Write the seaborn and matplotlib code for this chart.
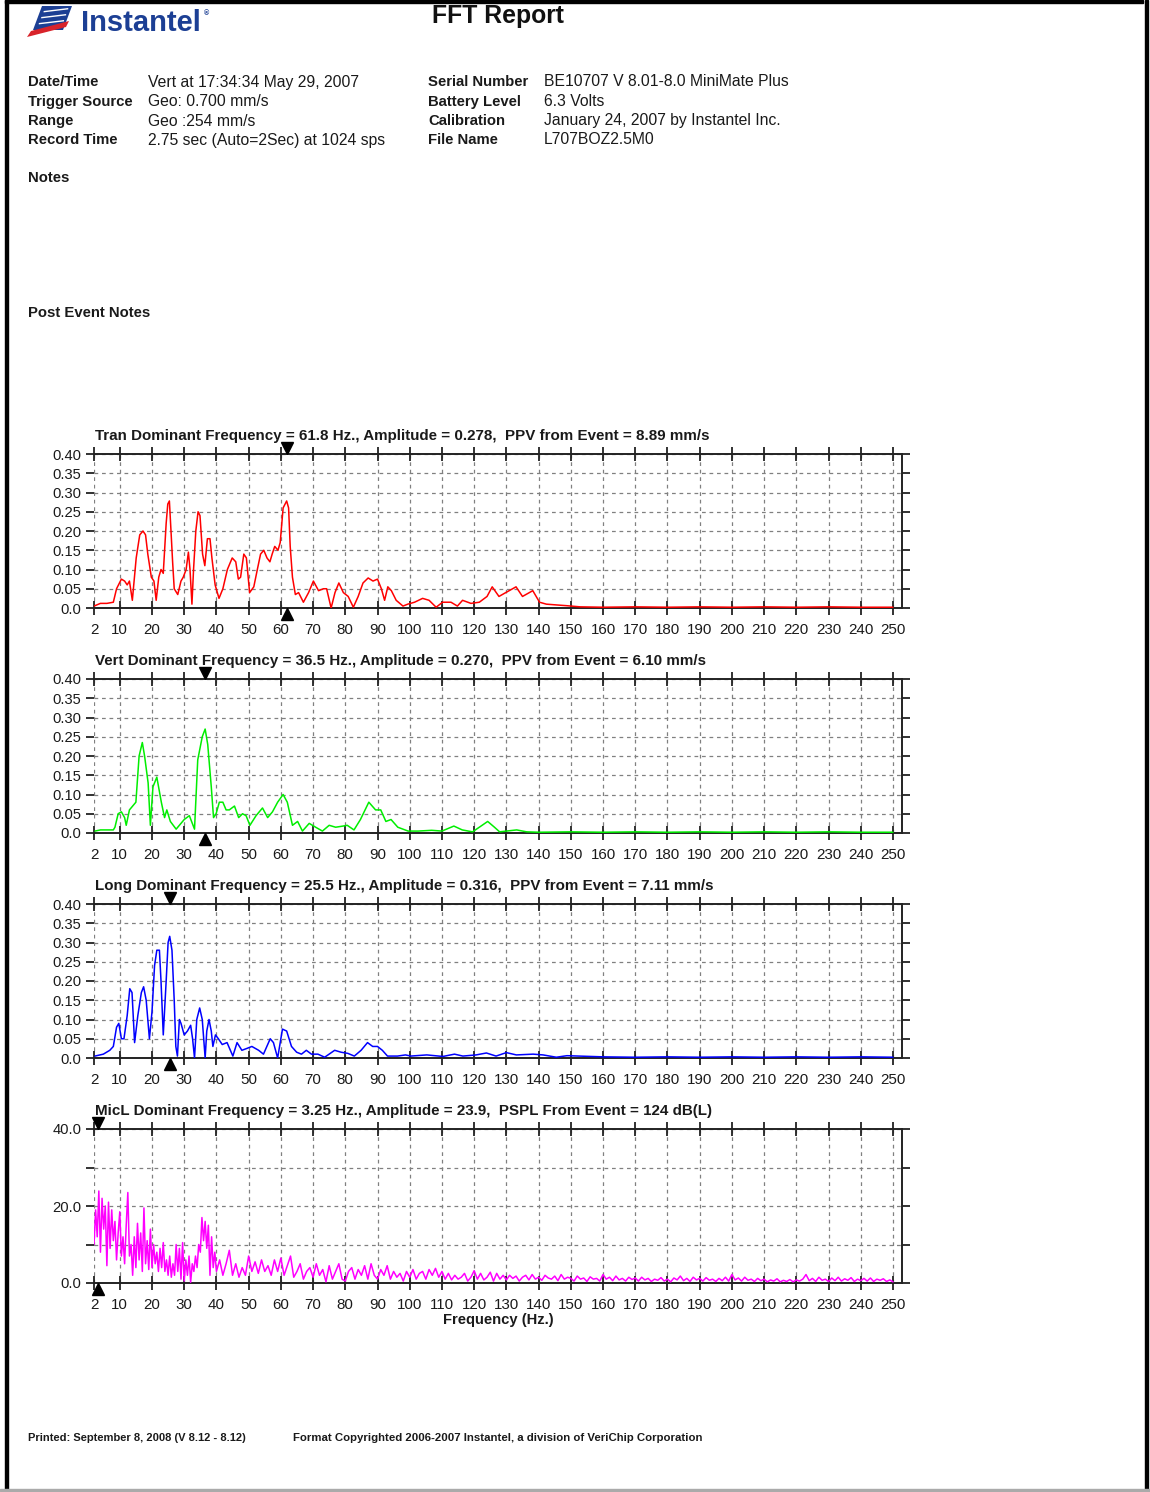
import numpy as np
import matplotlib
matplotlib.use("Agg")
import matplotlib.pyplot as plt
import matplotlib.transforms as mtransforms
from matplotlib.patches import Polygon, Rectangle
import seaborn as sns

# ------------------------------------------------------------------
# Spectrum values (frequency in Hz, amplitude)
# ------------------------------------------------------------------
tran_freq = [2, 4, 6, 8, 9, 10.5, 11.5, 12.3, 13, 13.9, 15.1, 16.2, 17.2, 18, 18.7, 19.8, 20.6, 21.3,
             22.1, 22.8, 23.5, 24.4, 24.9, 25.4, 25.9, 26.4, 26.9, 28, 29, 29.7, 30.6, 31.3, 31.8, 32.4,
             32.9, 33.6, 34.3, 34.9, 35.7, 36.4, 37.2, 38, 38.6, 39.6, 40.8, 42, 43.4, 44.9, 46, 46.8,
             47.5, 48.5, 49.3, 50.3, 51.6, 52.7, 53.7, 54.7, 55.7, 56.6, 57.3, 58.1, 59.1, 59.8, 60.7,
             61.8, 62.4, 62.9, 63.6, 64.5, 65.5, 67, 68.6, 70.1, 71.7, 73.2, 74.2, 75.6, 76.8, 78, 79.4,
             80.9, 82.5, 84, 85.5, 87.1, 88.6, 90, 91.2, 92.2, 93.2, 94.3, 95.8, 97.9, 99.4, 101.5, 104,
             106, 108.2, 110.2, 112.8, 114.8, 116.4, 119, 121.6, 124, 125.6, 127.7, 129.8, 133, 135,
             138.2, 140.3, 142.4, 145.5, 148.7, 152.9, 160, 170, 180, 190, 200, 210, 220, 230, 240, 250]
tran_amp = [0.005, 0.012, 0.012, 0.015, 0.05, 0.075, 0.07, 0.06, 0.07, 0.02, 0.13, 0.19, 0.2, 0.19,
            0.14, 0.08, 0.07, 0.02, 0.08, 0.1, 0.09, 0.22, 0.27, 0.278, 0.2, 0.12, 0.05, 0.035, 0.07,
            0.08, 0.1, 0.145, 0.1, 0.01, 0.1, 0.2, 0.25, 0.24, 0.14, 0.11, 0.18, 0.18, 0.13, 0.06,
            0.025, 0.05, 0.1, 0.13, 0.12, 0.075, 0.08, 0.14, 0.13, 0.04, 0.055, 0.1, 0.14, 0.15, 0.13,
            0.12, 0.14, 0.16, 0.15, 0.17, 0.26, 0.278, 0.26, 0.16, 0.08, 0.035, 0.04, 0.015, 0.04,
            0.07, 0.045, 0.05, 0.05, 0.0, 0.04, 0.065, 0.04, 0.03, 0.002, 0.03, 0.065, 0.078, 0.07,
            0.075, 0.05, 0.02, 0.055, 0.045, 0.02, 0.005, 0.01, 0.015, 0.025, 0.02, 0.002, 0.015,
            0.015, 0.005, 0.02, 0.012, 0.015, 0.03, 0.055, 0.03, 0.04, 0.055, 0.03, 0.045, 0.015,
            0.01, 0.008, 0.006, 0.003, 0.002, 0.003, 0.002, 0.003, 0.002, 0.003, 0.002, 0.003, 0.002,
            0.002]

vert_freq = [2.3, 4, 6, 8, 8.5, 9.5, 10.5, 11.5, 12, 13, 14, 15, 16, 17, 17.7, 18.8, 19.5, 20.3, 21.5,
             22.9, 23.9, 24.6, 25.7, 27.5, 29, 30, 31.6, 33.2, 34.2, 35.6, 36.5, 37.3, 38.4, 39.1, 39.9,
             40.9, 42, 43, 44, 45.6, 46.9, 48.1, 49.2, 50.4, 52.3, 54.3, 55.9, 57.4, 59, 60.7, 62, 63.6,
             65.2, 66.7, 68.8, 70.8, 72.9, 75, 77, 79.3, 80.6, 82.7, 84.7, 87.3, 89.4, 91, 92.6, 94.2,
             96.3, 99.5, 102.6, 106.8, 110, 113.7, 116.3, 119.5, 121.6, 124.2, 126.3, 127.9, 133.2,
             136.3, 140, 150, 160, 170, 180, 190, 200, 210, 220, 230, 240, 250]
vert_amp = [0.005, 0.008, 0.008, 0.008, 0.015, 0.05, 0.055, 0.04, 0.02, 0.06, 0.07, 0.08, 0.2, 0.235,
            0.2, 0.13, 0.02, 0.12, 0.145, 0.08, 0.04, 0.06, 0.03, 0.01, 0.025, 0.035, 0.045, 0.01, 0.19,
            0.25, 0.27, 0.23, 0.12, 0.04, 0.05, 0.08, 0.08, 0.06, 0.06, 0.07, 0.04, 0.05, 0.045, 0.02,
            0.045, 0.065, 0.04, 0.055, 0.08, 0.1, 0.08, 0.02, 0.03, 0.005, 0.025, 0.015, 0.005, 0.02,
            0.015, 0.018, 0.02, 0.008, 0.035, 0.08, 0.06, 0.06, 0.03, 0.035, 0.015, 0.005, 0.005,
            0.007, 0.005, 0.018, 0.008, 0.003, 0.015, 0.03, 0.015, 0.003, 0.008, 0.003, 0.002, 0.003,
            0.002, 0.003, 0.002, 0.003, 0.002, 0.003, 0.002, 0.003, 0.002, 0.002]

long_freq = [2.3, 4.9, 6.9, 8, 9, 9.7, 10.5, 11.3, 12.3, 13.1, 13.8, 14.6, 15.6, 16.7, 17.4, 18.2, 19.2,
             20, 20.8, 21.5, 22.3, 22.8, 23.5, 24.4, 25, 25.5, 26.2, 26.9, 27.4, 27.9, 28.5, 29, 30, 31,
             32, 32.6, 33.2, 33.9, 34.8, 35.6, 36.5, 37, 37.7, 38.4, 38.9, 39.7, 40.6, 41.8, 43.3, 45.1,
             46.4, 47.9, 49.5, 51, 53.1, 54.6, 56.7, 57.7, 59, 60.5, 61.8, 63.3, 64.9, 66.4, 67.9, 69.5,
             71.5, 73.6, 76.7, 78.7, 80.8, 82.8, 84.9, 86.9, 88.5, 90, 91.5, 93.1, 96.2, 98.7, 100.3,
             105.3, 110.3, 113.9, 116.5, 120.6, 123.8, 126.8, 130, 133.1, 138.3, 141.4, 145.5, 148.8,
             160, 170, 180, 190, 200, 210, 220, 230, 240, 250]
long_amp = [0.005, 0.01, 0.02, 0.03, 0.08, 0.09, 0.05, 0.05, 0.11, 0.18, 0.17, 0.04, 0.11, 0.17, 0.185,
            0.15, 0.05, 0.12, 0.24, 0.28, 0.28, 0.2, 0.06, 0.2, 0.3, 0.316, 0.28, 0.15, 0.03, 0.005,
            0.1, 0.09, 0.06, 0.07, 0.085, 0.05, 0.0, 0.1, 0.13, 0.1, 0.0, 0.07, 0.1, 0.07, 0.03, 0.06,
            0.05, 0.035, 0.04, 0.005, 0.04, 0.02, 0.025, 0.03, 0.02, 0.01, 0.05, 0.04, 0.0, 0.075,
            0.07, 0.03, 0.015, 0.01, 0.02, 0.01, 0.01, 0.002, 0.02, 0.015, 0.012, 0.005, 0.02, 0.04,
            0.03, 0.03, 0.02, 0.005, 0.005, 0.008, 0.005, 0.008, 0.004, 0.01, 0.005, 0.008, 0.013,
            0.005, 0.014, 0.008, 0.01, 0.008, 0.002, 0.006, 0.003, 0.002, 0.003, 0.002, 0.003, 0.002,
            0.003, 0.002, 0.003, 0.002]

# microphone: 0.5 Hz bins up to 40 Hz, then 1 Hz bins
mic_freq = np.r_[np.arange(2, 40, 0.5), np.arange(40, 251, 1)]
mic_amp = [10, 19, 12, 23.9, 8, 22, 14, 20, 4.5, 21, 9, 19, 11, 16, 6, 13, 18.5, 7, 12, 5,
           15, 23.5, 7, 10, 2, 12, 4, 15.5, 6, 13, 3, 19.5, 5, 11, 3.5, 14, 4, 10, 5, 8,
           3, 9, 4, 10.5, 3, 6, 2, 7, 1.5, 5, 2, 10, 3, 9, 1, 10.5, 0.5, 6, 2, 7,
           0.2, 5, 3, 7, 4, 10, 8, 17, 11, 16, 9, 15, 2, 12, 4, 8,
           # 40 Hz onward
           3, 6, 2, 5, 8.5, 2, 5, 1.5, 4, 2,
           7, 3, 5.5, 2.5, 6, 3, 4.5, 2, 6, 3,
           6.5, 2, 4.5, 7, 1.5, 3, 5, 1, 3, 4,
           1.5, 5, 2, 3.5, 0.3, 4.5, 1, 3, 5, 1,
           0.5, 3, 4, 1, 3.5, 2, 4.5, 1, 5, 2,
           1, 3.5, 2, 4.5, 1, 3, 1.5, 2.5, 0.5, 3,
           1.5, 3.5, 1, 2.5, 3, 1, 3.5, 2, 3.8, 1.5,
           3, 1, 2.5, 0.8, 2, 1, 1.5, 2.5, 0.5, 1.5,
           3.2, 1, 2.5, 0.8, 1.5, 2.8, 0.5, 2.5, 1, 2,
           0.8, 2, 1.2, 1.8, 0.5, 1.5, 2, 0.8, 2.2, 1,
           1.5, 0.7, 2, 1.3, 1, 1.8, 0.6, 2.2, 1, 1.5,
           1.2, 0.5, 1.8, 1, 1.3, 0.4, 1.6, 1, 1.2, 0.5,
           2.2, 1, 1.5, 0.6, 1.8, 0.8, 1.2, 0.5, 1.5, 0.9,
           1.3, 0.5, 1.5, 0.8, 1.2, 0.4, 1, 0.7, 1.4, 0.5,
           1, 0.3, 1.3, 0.8, 1.8, 0.6, 1.2, 0.4, 1.5, 0.8,
           1.2, 0.5, 1.4, 0.7, 1, 0.4, 1.2, 0.6, 1.5, 0.5,
           2.2, 0.8, 1.3, 0.5, 1.5, 0.7, 1, 0.4, 1.2, 0.6,
           1, 0.3, 0.8, 0.5, 1.1, 0.3, 0.7, 0.4, 0.9, 0.3,
           0.8, 0.5, 1, 2.2, 0.6, 1.2, 0.4, 1.5, 0.7, 1,
           0.4, 1.3, 0.6, 1.5, 0.5, 1.1, 0.7, 1.4, 0.4, 1,
           0.6, 1.2, 0.5, 1.3, 0.4, 1, 0.7, 1.1, 0.4, 0.8,
           0.3]

freq_ticks = [2] + list(range(10, 251, 10))
geo_ticks = [0, 0.05, 0.10, 0.15, 0.20, 0.25, 0.30, 0.35, 0.40]
geo_labels = ["0.0", "0.05", "0.10", "0.15", "0.20", "0.25", "0.30", "0.35", "0.40"]
mic_ticks = [0, 10, 20, 30, 40]
mic_labels = ["0.0", "", "20.0", "", "40.0"]

channels = [
    ("Tran Dominant Frequency = 61.8 Hz., Amplitude = 0.278,  PPV from Event = 8.89 mm/s",
     tran_freq, tran_amp, "#ff0000", 61.8, 0.40, geo_ticks, geo_labels, 454),
    ("Vert Dominant Frequency = 36.5 Hz., Amplitude = 0.270,  PPV from Event = 6.10 mm/s",
     vert_freq, vert_amp, "#00ee00", 36.5, 0.40, geo_ticks, geo_labels, 679),
    ("Long Dominant Frequency = 25.5 Hz., Amplitude = 0.316,  PPV from Event = 7.11 mm/s",
     long_freq, long_amp, "#0000ff", 25.5, 0.40, geo_ticks, geo_labels, 904),
    ("MicL Dominant Frequency = 3.25 Hz., Amplitude = 23.9,  PSPL From Event = 124 dB(L)",
     mic_freq, mic_amp, "#ff00ff", 3.25, 40, mic_ticks, mic_labels, 1129),
]

info_left = [("Date/Time", "Vert at 17:34:34 May 29, 2007"),
             ("Trigger Source", "Geo: 0.700 mm/s"),
             ("Range", "Geo :254 mm/s"),
             ("Record Time", "2.75 sec (Auto=2Sec) at 1024 sps")]
info_right = [("Serial Number", "BE10707 V 8.01-8.0 MiniMate Plus"),
              ("Battery Level", "6.3 Volts"),
              ("Calibration", "January 24, 2007 by Instantel Inc."),
              ("File Name", "L707BOZ2.5M0")]

# ------------------------------------------------------------------
sns.set_theme(style="white")
plt.rcParams["font.family"] = ["Liberation Sans", "DejaVu Sans"]
INK = "#1a1a1a"

W, H = 1150, 1492
fig = plt.figure(figsize=(W / 100, H / 100), dpi=100)


def fx(x):
    return x / W


def fy(y):
    return 1 - y / H


def txt(x, y, s, **kw):
    kw.setdefault("va", "center")
    kw.setdefault("color", INK)
    fig.text(fx(x), fy(y), s, **kw)


def poly(pts, color):
    fig.patches.append(Polygon([(fx(a), fy(b)) for a, b in pts], closed=True,
                               transform=fig.transFigure, facecolor=color, edgecolor="none"))


# page border
fig.patches.append(Rectangle((fx(5), 0), fx(3), 1, transform=fig.transFigure, color="black"))
fig.patches.append(Rectangle((fx(1145), 0), fx(3), 1, transform=fig.transFigure, color="black"))
fig.patches.append(Rectangle((fx(5), fy(3)), fx(1143) - fx(5), 3 / H, transform=fig.transFigure, color="black"))
fig.patches.append(Rectangle((0, fy(1491)), 1, 2 / H, transform=fig.transFigure, color="#aaaaaa"))

# logo
poly([(42, 6), (72, 6), (63, 30), (33, 30)], "#1c3f94")
for yy in (11, 17, 23):
    poly([(36 + (30 - yy) * 0.4, yy), (70 - (yy - 6) * 0.35, yy - 3), (70 - (yy - 6) * 0.35, yy - 1.6),
          (36 + (30 - yy) * 0.4, yy + 1.4)], "white")
poly([(27, 37), (31, 31), (69, 21), (66, 27)], "#d8232a")
txt(81, 23, "Instantel", fontsize=21, fontweight="heavy", color="#1c3f94")
txt(204, 14, "®", fontsize=5, fontweight="bold", color="#1c3f94")

txt(498, 16, "FFT Report", fontsize=17.8, fontweight="bold", ha="center", color="#111111")

rows_y = [82, 102, 121, 140]
for (lab, val), yy in zip(info_left, rows_y):
    txt(28, yy, lab, fontsize=10.7, fontweight="bold")
    txt(148, yy, val, fontsize=11.3)
for (lab, val), yy in zip(info_right, rows_y):
    txt(428, yy, lab, fontsize=10.7, fontweight="bold")
    txt(544, yy, val, fontsize=11.3)

txt(28, 178, "Notes", fontsize=10.7, fontweight="bold")
txt(28, 313, "Post Event Notes", fontsize=10.7, fontweight="bold")

# spectra
ax_left, ax_right = 94, 902
ax_h = 154
for title, f, a, color, dom, ytop, yt, yl, top in channels:
    ax = fig.add_axes([fx(ax_left), fy(top + ax_h), (ax_right - ax_left) / W, ax_h / H])
    sns.lineplot(x=f, y=a, ax=ax, color=color, lw=1.1, estimator=None, sort=False, zorder=3)
    ax.set_xlim(2, 252.8)
    ax.set_ylim(0, ytop)
    ax.set_xticks(freq_ticks)
    ax.set_xticklabels([str(t) for t in freq_ticks])
    ax.set_yticks(yt)
    ax.set_yticklabels(yl)
    ax.set_xlabel("")
    ax.set_ylabel("")
    ax.grid(True, color="#808080", linestyle=(0, (3, 3)), lw=0.9, zorder=1)
    ax.spines["left"].set_visible(False)
    for s in ("top", "bottom", "right"):
        ax.spines[s].set_visible(True)
        ax.spines[s].set_color("#222222")
        ax.spines[s].set_linewidth(1.4)
    ax.tick_params(axis="x", direction="inout", length=10, width=1.3, top=True, bottom=True,
                   color="#222222", labelsize=10.9, labelcolor=INK, pad=6)
    ax.tick_params(axis="y", direction="out", length=6, width=1.3, left=True, right=True,
                   color="#222222", labelsize=10.6, labelcolor=INK, pad=3)
    # dominant frequency markers
    up = mtransforms.ScaledTranslation(0, 4 / 72, fig.dpi_scale_trans)
    dn = mtransforms.ScaledTranslation(0, -4 / 72, fig.dpi_scale_trans)
    ax.plot([dom], [ytop], marker="v", ms=8, color="black", clip_on=False, zorder=6,
            transform=ax.transData + up)
    ax.plot([dom], [0], marker="^", ms=8, color="black", clip_on=False, zorder=6,
            transform=ax.transData + dn)
    txt(95, top - 18, title, fontsize=10.9, fontweight="bold")

txt(498, 1320, "Frequency (Hz.)", fontsize=10.6, fontweight="bold", ha="center")

txt(28, 1438, "Printed: September 8, 2008 (V 8.12 - 8.12)", fontsize=8, fontweight="bold")
txt(293, 1438, "Format Copyrighted 2006-2007 Instantel, a division of VeriChip Corporation",
    fontsize=8.2, fontweight="bold")

fig.savefig("out.png", dpi=100)
